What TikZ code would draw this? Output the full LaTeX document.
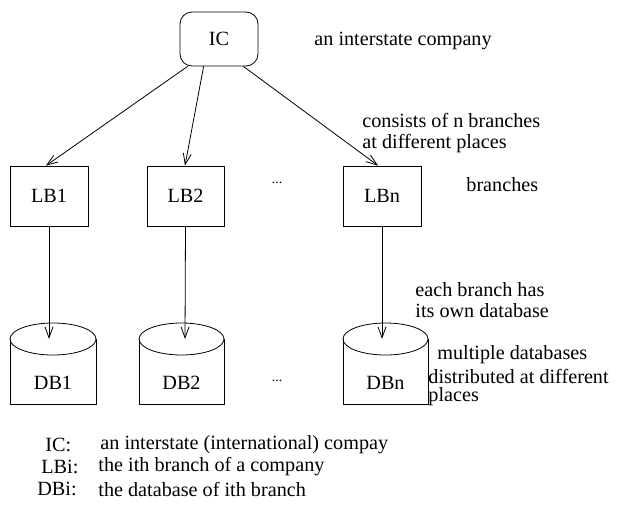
\documentclass[tikz,border=0pt]{standalone}
\usepackage{fontspec}
\setmainfont{Liberation Serif}
\usetikzlibrary{arrows.meta}
\begin{document}
\begin{tikzpicture}[x=1pt,y=-1pt,line width=0.8pt,
  every node/.style={font=\fontsize{20.2}{21}\selectfont,inner sep=0pt},
  box/.style={draw,minimum width=78pt,minimum height=60pt},
  arr/.style={-{Straight Barb[length=11pt,width=8pt]}},
  txt/.style={anchor=west,align=left},
  dots/.style={anchor=base,font=\fontsize{14}{14}\selectfont}]
\useasboundingbox (0,0) rectangle (637,504);
% top
\node[box,rounded corners=12pt,minimum height=54pt] (ic) at (219,39) {IC};
\node[txt] (t1) at (314,41) {an interstate company};
% branches
\node[box] (lb1) at (49,196) {LB1};
\node[box,minimum width=77pt] (lb2) at (185.5,196) {LB2};
\node[box] (lbn) at (382,196) {LBn};
\node[dots] (d1) at (277,183) {...};
\node[txt] (t2) at (362,133) {consists of n branches\\at different places};
\node[txt] (t3) at (466,185) {branches};
\node[txt] (t4) at (415,300) {each branch has\\its own database};
% databases
\draw (10,339) -- (10,404) -- (96,404) -- (96,339);
\draw (53,339) ellipse [x radius=43pt,y radius=16pt];
\draw (139,339) -- (139,404) -- (224,404) -- (224,339);
\draw (181.5,339) ellipse [x radius=42.5pt,y radius=16pt];
\draw (343,339) -- (343,404) -- (428,404) -- (428,339);
\draw (385.5,339) ellipse [x radius=42.5pt,y radius=16pt];
\node (db1) at (53,383) {DB1};
\node (db2) at (181.5,383) {DB2};
\node (dbn) at (385.5,383) {DBn};
\coordinate (e1) at (49,339);
\coordinate (e2) at (185,339);
\coordinate (en) at (382,339);
\node[dots] (d2) at (277,381) {...};
\node[txt] (t5a) at (437,355) {multiple databases};
\node[txt] (t5b) at (428,376) {distributed at different};
\node[txt] (t5c) at (428,397) {places};
% connectors
\draw[arr] ([xshift=8pt]ic.south west) -- ([xshift=-3pt]lb1.north);
\draw[arr] ([xshift=24pt]ic.south west) -- ([xshift=-0.5pt]lb2.north);
\draw[arr] ([xshift=-15pt]ic.south east) -- ([xshift=-4pt]lbn.north);
\draw[arr] (lb1.south) -- (e1);
\draw[arr] (lb2.south) -- (e2);
\draw[arr] (lbn.south) -- (en);
% legend
\node[txt] (k1) at (45,445) {IC:};
\node[txt] (v1) at (100,445) {an interstate (international) compay};
\node[txt] (k2) at (41,467) {LBi:};
\node[txt] (v2) at (98,467) {the ith branch of a company};
\node[txt] (k3) at (37,489) {DBi:};
\node[txt] (v3) at (98,489) {the database of ith branch};
\end{tikzpicture}
\end{document}
